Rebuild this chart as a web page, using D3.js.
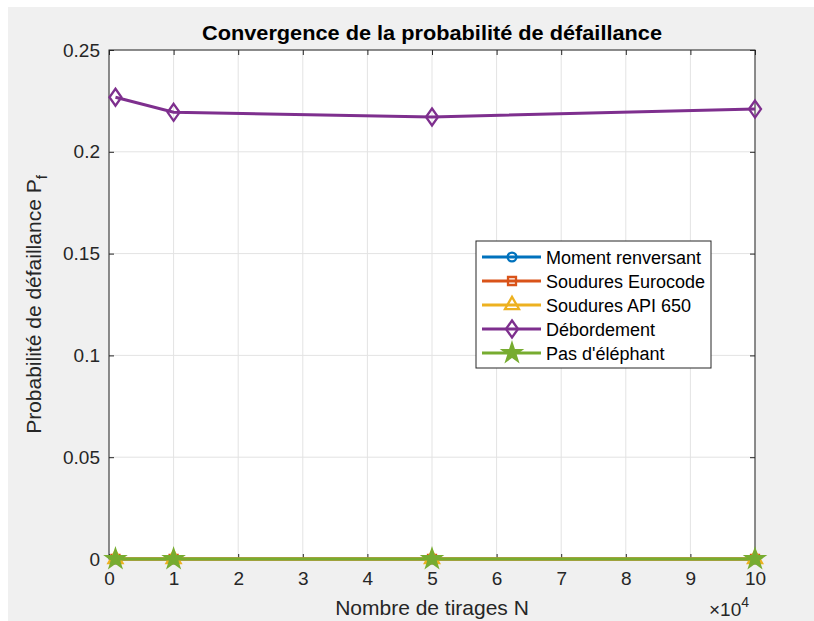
<!DOCTYPE html>
<html>
<head>
<meta charset="utf-8">
<script src="https://cdn.jsdelivr.net/npm/d3@7"></script>
<style>
  body { margin: 0; background: #ffffff; }
  svg { display: block; font-family: "Liberation Sans", Arial, sans-serif; }
</style>
</head>
<body>
<script>
    // tirages N and Pf for each failure mode
    var tirages = [1000, 10000, 50000, 100000];
    var momentRenversant = [0, 0, 0, 0];
    var souduresEurocode = [0, 0, 0, 0];
    var souduresAPI = [0, 0, 0, 0];
    var debordement = [0.2268, 0.2194, 0.2171, 0.2210];
    var pasElephant = [0, 0, 0, 0];

    var seriesNames = ["Moment renversant", "Soudures Eurocode", "Soudures API 650", "Débordement", "Pas d'éléphant"];
    var seriesColors = ["#0072BD", "#D95319", "#EDB120", "#7E2F8E", "#77AC30"];
    var seriesMarkers = ["circle", "square", "triangle", "diamond", "star"];
    var xTicks = [0, 1, 2, 3, 4, 5, 6, 7, 8, 9, 10];
    var yTicks = [0, 0.05, 0.1, 0.15, 0.2, 0.25];

    var seriesValues = [momentRenversant, souduresEurocode, souduresAPI, debordement, pasElephant];
    var series = seriesNames.map(function (name, i) {
        return { name: name, color: seriesColors[i], marker: seriesMarkers[i],
                 points: tirages.map(function (n, j) { return { x: n / 1e4, y: seriesValues[i][j] }; }) };
    });

    var svgWidth = 814, svgHeight = 621;
    var axLeft = 109, axRight = 755, axTop = 50, axBottom = 559;

    var svg = d3.select('body').append('svg')
        .attr('width', svgWidth).attr('height', svgHeight);

    svg.append('rect').attr('x', 8).attr('y', 7)
        .attr('width', svgWidth - 8).attr('height', svgHeight - 7)
        .attr('fill', '#f0f0f0');

    var x = d3.scaleLinear().domain([0, 10]).range([axLeft, axRight]);
    var y = d3.scaleLinear().domain([0, 0.25]).range([axBottom, axTop]);

    svg.append('rect').attr('x', axLeft).attr('y', axTop)
        .attr('width', axRight - axLeft).attr('height', axBottom - axTop)
        .attr('fill', '#ffffff');

    // grid
    var grid = svg.append('g');
    grid.selectAll('.gx').data(xTicks).enter().append('line')
        .attr('x1', function (d) { return x(d); }).attr('x2', function (d) { return x(d); })
        .attr('y1', axTop).attr('y2', axBottom)
        .attr('stroke', '#e3e3e3').attr('stroke-width', 1);
    grid.selectAll('.gy').data(yTicks).enter().append('line')
        .attr('y1', function (d) { return y(d); }).attr('y2', function (d) { return y(d); })
        .attr('x1', axLeft).attr('x2', axRight)
        .attr('stroke', '#e3e3e3').attr('stroke-width', 1);

    // axes (ticks inside, box on)
    var tickColor = '#262626';
    function styleAxis(g) {
        g.select('.domain').remove();
        g.selectAll('.tick line').attr('stroke', tickColor);
        g.selectAll('.tick text').attr('fill', '#262626').style('font-size', '19px');
    }
    svg.append('g').attr('transform', 'translate(0,' + axBottom + ')')
        .call(d3.axisBottom(x).tickValues(xTicks).tickSizeInner(-5).tickSizeOuter(0).tickPadding(13)
            .tickFormat(d3.format('d')))
        .call(styleAxis);
    svg.append('g').attr('transform', 'translate(0,' + axTop + ')')
        .call(d3.axisTop(x).tickValues(xTicks).tickSizeInner(-5).tickSizeOuter(0).tickFormat(''))
        .call(styleAxis);
    svg.append('g').attr('transform', 'translate(' + axLeft + ',0)')
        .call(d3.axisLeft(y).tickValues(yTicks).tickSizeInner(-5).tickSizeOuter(0).tickPadding(9)
            .tickFormat(function (d) { return d === 0 ? '0' : String(+d.toFixed(2)); }))
        .call(styleAxis);
    svg.append('g').attr('transform', 'translate(' + axRight + ',0)')
        .call(d3.axisRight(y).tickValues(yTicks).tickSizeInner(-5).tickSizeOuter(0).tickFormat(''))
        .call(styleAxis);

    svg.append('rect').attr('x', axLeft).attr('y', axTop)
        .attr('width', axRight - axLeft).attr('height', axBottom - axTop)
        .attr('fill', 'none').attr('stroke', tickColor).attr('stroke-width', 1);

    // markers
    var symbolTypes = {
        circle: d3.symbolCircle, square: d3.symbolSquare, triangle: d3.symbolTriangle,
        star: d3.symbolStar
    };
    function markerPath(type) {
        if (type === 'diamond') return 'M0,-8.5L6,0L0,8.5L-6,0Z';
        var size = { circle: 60, square: 64, triangle: 85, star: 95 }[type];
        return d3.symbol().type(symbolTypes[type]).size(size)();
    }
    function drawMarker(g, type, color, px, py) {
        var fill = type === 'star' ? color : 'none';
        g.append('path').attr('d', markerPath(type))
            .attr('transform', 'translate(' + px + ',' + py + ')')
            .attr('fill', fill).attr('stroke', color).attr('stroke-width', 2.3);
    }

    var line = d3.line().x(function (d) { return x(d.x); }).y(function (d) { return y(d.y); });
    var plot = svg.append('g');
    series.forEach(function (s) {
        var g = plot.append('g');
        g.append('path').datum(s.points).attr('d', line)
            .attr('fill', 'none').attr('stroke', s.color).attr('stroke-width', 3);
        s.points.forEach(function (p) { drawMarker(g, s.marker, s.color, x(p.x), y(p.y)); });
    });

    // title and labels
    svg.append('text').attr('x', (axLeft + axRight) / 2).attr('y', 40)
        .attr('text-anchor', 'middle').style('font-size', '20px').style('font-weight', 'bold')
        .attr('textLength', 460).attr('lengthAdjust', 'spacingAndGlyphs')
        .attr('fill', '#000').text('Convergence de la probabilité de défaillance');

    svg.append('text').attr('x', (axLeft + axRight) / 2).attr('y', 615)
        .attr('text-anchor', 'middle').style('font-size', '21px').attr('fill', '#262626')
        .text('Nombre de tirages N');

    var exp = svg.append('text').attr('x', 709).attr('y', 616)
        .style('font-size', '19px').attr('fill', '#262626');
    exp.append('tspan').text('×10');
    exp.append('tspan').attr('dy', -9).style('font-size', '14px').text('4');

    var yl = svg.append('text').attr('transform', 'translate(41,' + ((axTop + axBottom) / 2) + ') rotate(-90)')
        .attr('text-anchor', 'middle').style('font-size', '21px').attr('fill', '#262626');
    yl.append('tspan').text('Probabilité de défaillance P');
    yl.append('tspan').attr('dy', 6).style('font-size', '15px').text('f');

    // legend
    var lg = svg.append('g').attr('transform', 'translate(476,241)');
    lg.append('rect').attr('width', 235).attr('height', 127)
        .attr('fill', '#ffffff').attr('stroke', '#262626').attr('stroke-width', 1);
    series.forEach(function (s, i) {
        var ry = 16 + i * 24;
        lg.append('line').attr('x1', 6).attr('x2', 65).attr('y1', ry).attr('y2', ry)
            .attr('stroke', s.color).attr('stroke-width', 3);
        drawMarker(lg, s.marker, s.color, 36, ry);
        lg.append('text').attr('x', 70).attr('y', ry + 6.5)
            .style('font-size', '18px').attr('fill', '#000').text(s.name);
    });
</script>
</body>
</html>
